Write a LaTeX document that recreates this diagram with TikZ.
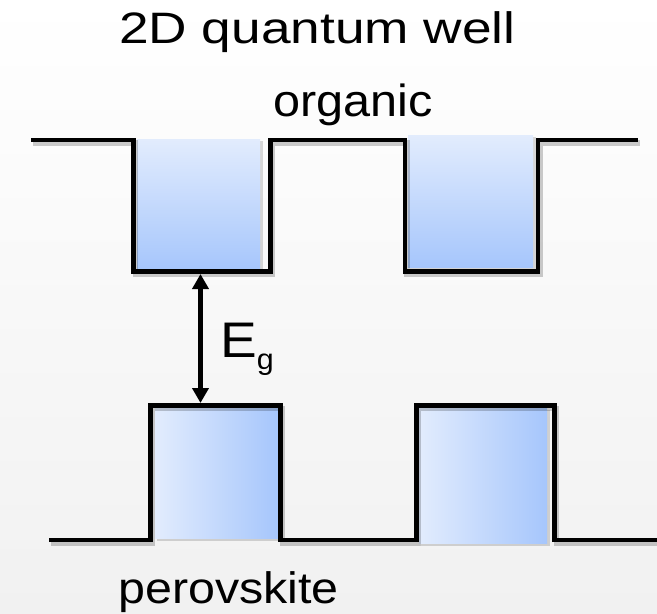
\documentclass[tikz,border=0pt]{standalone}
\usepackage{fontspec}
\setmainfont{Liberation Sans}
\usetikzlibrary{arrows.meta}
\definecolor{wlight}{RGB}{226,236,253}
\definecolor{wdark}{RGB}{166,198,252}
\definecolor{bgbot}{RGB}{241,241,241}
\tikzset{
  band/.style={line width=4.8pt, black, line join=miter, line cap=butt},
  bandshadow/.style={line width=5.5pt, black, opacity=0.2, line join=miter, line cap=butt},
  wellbox/.style={top color=wlight, bottom color=wdark, draw=none},
  barrierbox/.style={left color=wlight, right color=wdark, draw=none},
  boxshadow/.style={fill=black, opacity=0.15, draw=none},
  gaparrow/.style={line width=4.6pt, {Triangle[width=16pt,length=15pt]}-{Triangle[width=16pt,length=15pt]}},
  lbl/.style={inner sep=0pt, anchor=base west}
}
\begin{document}
\begin{tikzpicture}[x=1pt,y=-1pt]
  \useasboundingbox (0,0) rectangle (657,614);
  \shade[top color=white, bottom color=bgbot] (0,0) rectangle (657,614);
  % box shadows
  \fill[boxshadow] (139,141) rectangle (263,273);
  \fill[boxshadow] (410,137) rectangle (536,270);
  \fill[boxshadow] (157,410) rectangle (281,541);
  \fill[boxshadow] (421,410) rectangle (550,546);
  % boxes
  \fill[wellbox] (137,139) rectangle (260,270);
  \fill[wellbox] (408,135) rectangle (533,267);
  \fill[barrierbox] (155,408) rectangle (278,538);
  \fill[barrierbox] (419,408) rectangle (547,543);
  % line shadows
  \begin{scope}[shift={(2,3)}]
    \draw[bandshadow] (31,140) -- (133.5,140) -- (133.5,271.5) -- (270.5,271.5) -- (270.5,140) -- (405,140) -- (405,271.5) -- (538,271.5) -- (538,140) -- (638,140);
    \draw[bandshadow] (49,540) -- (150.5,540) -- (150.5,405.5) -- (280.5,405.5) -- (280.5,540) -- (416.5,540) -- (416.5,405.5) -- (554.5,405.5) -- (554.5,540) -- (657,540);
  \end{scope}
  % band lines
  \draw[band] (31,140) -- (133.5,140) -- (133.5,271.5) -- (270.5,271.5) -- (270.5,140) -- (405,140) -- (405,271.5) -- (538,271.5) -- (538,140) -- (638,140);
  \draw[band] (49,540) -- (150.5,540) -- (150.5,405.5) -- (280.5,405.5) -- (280.5,540) -- (416.5,540) -- (416.5,405.5) -- (554.5,405.5) -- (554.5,540) -- (657,540);
  % gap arrow
  \coordinate (wellbottom) at (200.5,274);
  \coordinate (barriertop) at (200.5,403);
  \draw[gaparrow] (wellbottom) -- (barriertop);
  % labels
  \node[lbl] (title) at (119,43) {\fontsize{44}{44}\selectfont\scalebox{1.21}[1]{2D quantum well}};
  \node[lbl] (organic) at (273,116.5) {\fontsize{45}{45}\selectfont\scalebox{1.08}[1]{organic}};
  \node[lbl] (perov) at (118,603) {\fontsize{44}{44}\selectfont\scalebox{1.10}[1]{perovskite}};
  \node[lbl] (eg) at (220,357) {\fontsize{50}{50}\selectfont\scalebox{1.1}[1]{E}\raisebox{-12pt}{\fontsize{29}{29}\selectfont\scalebox{1.05}[1]{g}}};
\end{tikzpicture}
\end{document}
